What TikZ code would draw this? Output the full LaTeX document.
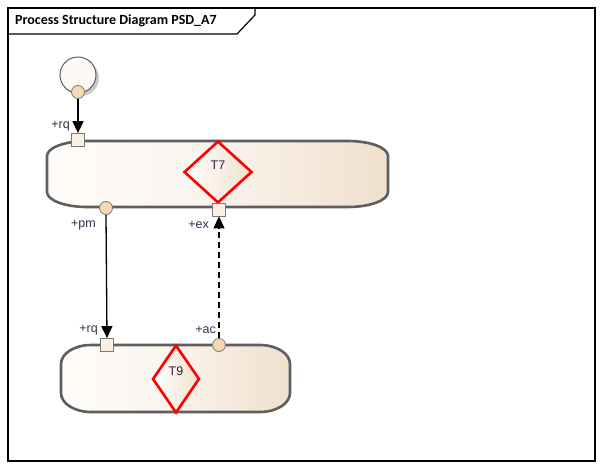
\documentclass[tikz,border=0pt]{standalone}
\usepackage{fontspec}
\setmainfont{Liberation Sans}
\newfontfamily\titlefont{Carlito}
\usetikzlibrary{shapes.geometric,arrows.meta}
\definecolor{frameblack}{HTML}{000000}
\definecolor{contborder}{HTML}{5E5E5E}
\definecolor{contlight}{HTML}{FEFCFA}
\definecolor{contmid}{HTML}{FAF3EC}
\definecolor{contdark}{HTML}{F0E0CD}
\definecolor{portsq}{HTML}{F9EFE3}
\definecolor{portci}{HTML}{F4D9B2}
\definecolor{portline}{HTML}{7A7A7A}
\definecolor{labelcol}{HTML}{3D2B4E}
\definecolor{redline}{HTML}{FF0000}
\definecolor{initfill}{HTML}{FDF9F6}
\definecolor{shadowcol}{HTML}{C9C9C9}
\tikzset{
  contstyle/.style={draw=contborder, line width=2.6pt, left color=contlight, right color=contdark, middle color=contmid},
  diamstyle/.style={diamond, draw=redline, line width=2.6pt, inner sep=0pt, left color=white, right color=contdark},
  sqport/.style={rectangle, draw=portline, line width=0.8pt, fill=portsq, minimum size=13pt, inner sep=0pt},
  ciport/.style={circle, draw=portline, line width=0.8pt, fill=portci, minimum size=13pt, inner sep=0pt},
  lbl/.style={text=labelcol, font=\fontsize{12.5}{14}\selectfont, inner sep=0pt},
  nm/.style={text=labelcol!80!black, font=\fontsize{12.5}{14}\selectfont, inner sep=0pt},
  flow/.style={draw=black, line width=1.3pt, -{Triangle[length=12pt,width=11pt]}},
  dflow/.style={flow, dash pattern=on 6pt off 4pt},
}
% container: x1 y1 x2 y2 rx ry
\newcommand{\mycontainer}[6]{%
  \path[contstyle]
    ({#1+#5},#2) -- ({#3-#5},#2)
    .. controls ({#3-#5+0.552*#5},#2) and (#3,{#2+#6-0.552*#6}) .. (#3,{#2+#6})
    -- (#3,{#4-#6})
    .. controls (#3,{#4-#6+0.552*#6}) and ({#3-#5+0.552*#5},#4) .. ({#3-#5},#4)
    -- ({#1+#5},#4)
    .. controls ({#1+#5-0.552*#5},#4) and (#1,{#4-#6+0.552*#6}) .. (#1,{#4-#6})
    -- (#1,{#2+#6})
    .. controls (#1,{#2+#6-0.552*#6}) and ({#1+#5-0.552*#5},#2) .. ({#1+#5},#2) -- cycle;}
\begin{document}
\begin{tikzpicture}[x=1pt,y=-1pt]
\useasboundingbox (0,0) rectangle (603,469);
\fill[white] (0,0) rectangle (603,469);
% frame
\draw[black, line width=1.2pt] (8,8) rectangle (595,461);
\draw[black, line width=1.2pt] (8,34) -- (237,34) -- (255,15) -- (255,8);
\node[anchor=west, inner sep=0pt, font=\titlefont\bfseries\fontsize{14}{16}\selectfont] (title) at (15,21) {Process Structure Diagram PSD\_A7};
% containers
\mycontainer{47}{141}{388}{207}{40}{15}
\mycontainer{61}{345}{290}{412}{30}{19}
% diamonds
\node[diamstyle, minimum width=68pt, minimum height=62pt] (t7) at (218,172) {};
\node[nm] (t7l) at (218,165) {T7};
\node[diamstyle, minimum width=47pt, minimum height=68pt] (t9) at (176,379) {};
\node[nm] (t9l) at (176,371) {T9};
% initial node
\fill[shadowcol] (81,78) circle (18);
\node[circle, draw=contborder, line width=1pt, fill=initfill, minimum size=36pt, inner sep=0pt] (init) at (78,75) {};
\node[ciport] (initp) at (78,92) {};
% ports
\node[sqport] (rq1) at (78,140) {};
\node[ciport] (pm) at (106,208) {};
\node[sqport] (ex) at (219,209.5) {};
\node[sqport] (rq2) at (107,345) {};
\node[ciport] (ac) at (219,345) {};
% labels
\node[lbl, anchor=east] (lrq1) at (70,126) {+rq};
\node[lbl, anchor=east] (lpm) at (96,225) {+pm};
\node[lbl, anchor=east] (lex) at (209,225) {+ex};
\node[lbl, anchor=east] (lrq2) at (98,330) {+rq};
\node[lbl, anchor=east] (lac) at (216,330) {+ac};
% connectors
\draw[flow] (initp.south) -- (rq1.north);
\draw[flow] (pm.south) -- (rq2.north);
\draw[dflow] (ac.north) -- (ex.south);
\end{tikzpicture}
\end{document}
